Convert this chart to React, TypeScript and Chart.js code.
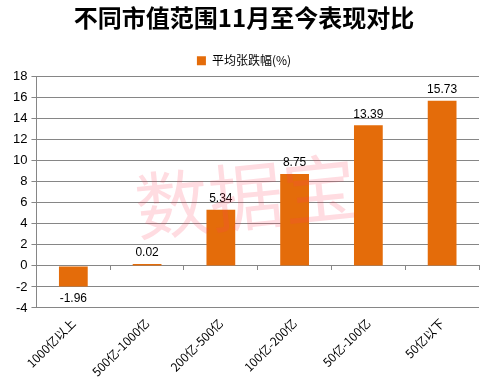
import React, { useEffect, useRef } from "react";
import { Chart, registerables } from "chart.js";

Chart.register(...registerables);

const categories = ["1000亿以上", "500亿-1000亿", "200亿-500亿", "100亿-200亿", "50亿-100亿", "50亿以下"];
const values = [-1.96, 0.02, 5.34, 8.75, 13.39, 15.73];
const seriesName = "平均张跌幅(%)";
const titleText = "不同市值范围11月至今表现对比";
const watermark = "数据宝";

const FONT = '"Liberation Sans", "Noto Sans CJK SC", sans-serif';

export default function App() {
  const ref = useRef<HTMLCanvasElement | null>(null);
  useEffect(() => {
    document.body.style.margin = "0";
    const labelsPlugin = {
      id: "valueLabels",
      afterDatasetsDraw(chart: any) {
        const ctx = chart.ctx;
        const meta = chart.getDatasetMeta(0);
        ctx.save();
        ctx.font = `12px ${FONT}`;
        ctx.fillStyle = "#000";
        ctx.textAlign = "center";
        meta.data.forEach((bar: any, i: number) => {
          const v = values[i];
          if (v >= 0) {
            ctx.textBaseline = "bottom";
            ctx.fillText(v.toFixed(2), bar.x, bar.y - 5);
          } else {
            ctx.textBaseline = "top";
            ctx.fillText(v.toFixed(2), bar.x, bar.y + 6);
          }
        });
        ctx.restore();
      },
    };
    const watermarkPlugin = {
      id: "watermark",
      afterDraw(chart: any) {
        const ctx = chart.ctx;
        const a = chart.chartArea;
        ctx.save();
        ctx.translate((a.left + a.right) / 2 - 12, (a.top + a.bottom) / 2 + 4);
        ctx.rotate(-0.1);
        ctx.font = `74px "Noto Sans CJK SC", sans-serif`;
        ctx.fillStyle = "rgba(255, 60, 90, 0.18)";
        ctx.textAlign = "center";
        ctx.textBaseline = "middle";
        ctx.fillText(watermark, 0, 0);
        ctx.restore();
      },
    };
    const chart = new Chart(ref.current!, {
      type: "bar",
      data: {
        labels: categories,
        datasets: [
          {
            label: seriesName,
            data: values,
            backgroundColor: "#E46C0A",
            borderWidth: 0,
            barPercentage: 0.39,
            categoryPercentage: 1,
            minBarLength: 2,
            xAxisID: "x",
          },
        ],
      },
      options: {
        animation: false,
        responsive: false,
        layout: { padding: { left: 9, right: 5, top: 3, bottom: 4 } },
        plugins: {
          title: {
            display: true,
            text: titleText,
            color: "#000",
            font: { family: '"Noto Sans CJK SC", sans-serif', size: 24, weight: "bold" },
            padding: { top: 0, bottom: 13 },
          },
          legend: {
            display: true,
            labels: {
              boxWidth: 9,
              boxHeight: 9,
              color: "#000",
              font: { family: '"Noto Sans CJK SC", sans-serif', size: 12 },
              padding: 10,
            },
          },
          tooltip: { enabled: false },
        },
        scales: {
          y: {
            min: -4,
            max: 18,
            ticks: { stepSize: 2, color: "#000", font: { family: FONT, size: 13 }, padding: 4 },
            grid: { color: "#868686", lineWidth: 1, tickLength: 5, drawTicks: true },
            border: { color: "#868686" },
          },
          x: {
            position: "bottom",
            ticks: {
              color: "#000",
              font: { family: '"Noto Sans CJK SC", sans-serif', size: 12 },
              maxRotation: 45,
              minRotation: 45,
              padding: 0,
            },
            grid: { display: false },
            border: { display: false },
          },
          x2: {
            type: "category",
            labels: categories,
            position: { y: 0 },
            offset: true,
            ticks: { display: false },
            grid: { drawOnChartArea: false, color: "#868686", tickLength: 4, offset: true },
            border: { color: "#868686" },
          },
        },
      } as any,
      plugins: [labelsPlugin, watermarkPlugin],
    });
    return () => chart.destroy();
  }, []);
  return (
    <div style={{ position: "absolute", left: 0, top: 0, width: 484, height: 383, background: "#fff" }}>
      <canvas ref={ref} width={484} height={383} />
    </div>
  );
}
